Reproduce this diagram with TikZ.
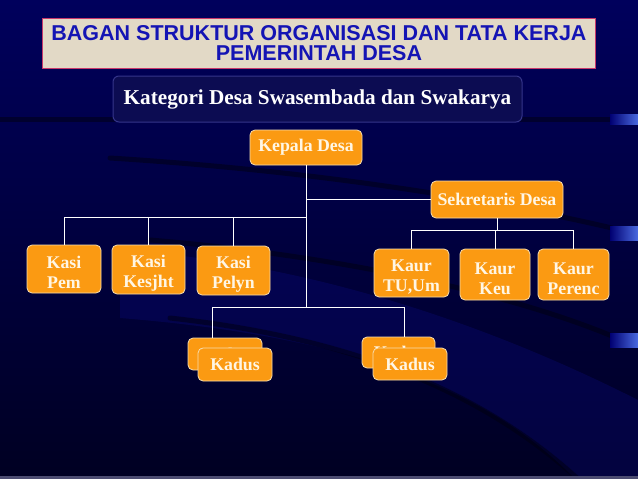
\documentclass[tikz,border=0pt]{standalone}
\usepackage{fontspec}
\setmainfont{Liberation Serif}
\newfontfamily\headfont{Liberation Sans}
\usetikzlibrary{calc}

\definecolor{bgtop}{HTML}{00005C}
\definecolor{bgmid}{HTML}{000072}
\definecolor{bgbot}{HTML}{000022}
\definecolor{bandblue}{HTML}{0C0C84}
\definecolor{streak}{HTML}{000010}
\definecolor{glint}{HTML}{4A6AE0}
\definecolor{titlefill}{HTML}{E2D9C6}
\definecolor{titleedge}{HTML}{C8386A}
\definecolor{titleblue}{HTML}{1414B4}
\definecolor{subfill}{HTML}{0C0C52}
\definecolor{subedge}{HTML}{34348A}
\definecolor{boxorange}{HTML}{FB9A12}
\definecolor{boxedge}{HTML}{F6DDB0}
\definecolor{boxtext}{HTML}{FFF6E4}

\tikzset{
  unitbox/.style={draw=boxedge, line width=0.8pt, fill=boxorange, rounded corners=5pt,
    text=boxtext, font=\bfseries\fontsize{17.8}{20}\selectfont, align=center, inner sep=0pt},
  twoline/.style={unitbox, execute at begin node={\rule{0pt}{40pt}}},
  link/.style={draw=white, line width=0.9pt},
  streakline/.style={draw=streak, line width=5pt, opacity=0.5, line cap=round},
}

\begin{document}
\begin{tikzpicture}[x=1pt, y=-1pt]
    \useasboundingbox (0,0) rectangle (638,479);

    % background
    \shade[top color=bgtop, middle color=bgmid, bottom color=bgbot] (0,0) rectangle (638,479);
    \fill[bandblue, opacity=0.3] (120,250) .. controls (300,262) and (480,320) .. (638,400) -- (638,479) -- (575,479) .. controls (480,380) and (330,335) .. (120,318) -- cycle;
    \draw[streakline] (0,119) -- (612,119);
    \draw[streakline] (110,158) .. controls (300,170) and (470,195) .. (612,228);
    \draw[streakline] (150,240) .. controls (330,255) and (500,290) .. (612,336);
    \draw[streakline] (170,318) .. controls (350,338) and (480,390) .. (578,479);
    \fill[left color=bgmid, right color=glint] (610,114) rectangle (638,124);
    \fill[left color=bgmid, right color=glint] (610,226) rectangle (638,240);
    \fill[left color=bgmid, right color=glint] (610,333) rectangle (638,347);
    \fill[gray!60!bgtop] (0,476) rectangle (638,479);

    % heading
    \node[draw=titleedge, line width=1pt, fill=titlefill, minimum width=553pt, minimum height=50pt, inner sep=0pt,
      text=titleblue, font=\headfont\bfseries\fontsize{21.5}{19.5}\selectfont, align=center] (title) at (319,43)
      {BAGAN STRUKTUR ORGANISASI DAN TATA KERJA\\PEMERINTAH DESA};
    \node[draw=subedge, line width=1pt, fill=subfill, rounded corners=6pt, minimum width=409pt, minimum height=46pt, inner sep=0pt,
      text=white, font=\bfseries\fontsize{21.2}{22}\selectfont] (kategori) at (317.5,99) {Kategori Desa Swasembada dan Swakarya};

    % units
    \node[unitbox, minimum width=112pt, minimum height=35pt] (kepala) at (306,147.5) {Kepala Desa};
    \node[unitbox, minimum width=132pt, minimum height=37pt] (sekdes) at (497,199.5) {Sekretaris Desa};
    \node[twoline, minimum width=74pt, minimum height=48pt] (kasipem) at (64,269) {Kasi\\Pem};
    \node[twoline, minimum width=73pt, minimum height=49pt] (kasikes) at (148.5,269.5) {Kasi\\Kesjht};
    \node[twoline, minimum width=73pt, minimum height=49pt] (kasipel) at (233.5,270.5) {Kasi\\Pelyn};
    \node[twoline, minimum width=75pt, minimum height=48pt] (kaurtu) at (411.5,273) {Kaur\\TU,Um};
    \node[twoline, minimum width=70pt, minimum height=51pt] (kaurkeu) at (495,274.5) {Kaur\\Keu};
    \node[twoline, minimum width=71pt, minimum height=51pt] (kaurper) at (573.5,274.5) {Kaur\\Perenc};
    \node[unitbox, minimum width=74pt, minimum height=32pt] (kadusa) at (225,354) {Kadus};
    \node[unitbox, minimum width=74pt, minimum height=33pt] (kadusb) at (235,364.5) {Kadus};
    \node[unitbox, minimum width=73pt, minimum height=31pt] (kadusc) at (398.5,352.5) {Kadus};
    \node[unitbox, minimum width=74pt, minimum height=32pt] (kadusd) at (410,364) {Kadus};

    % bus points
    \coordinate (kasibus) at (306,217);
    \coordinate (kaurbus) at (497,230);
    \coordinate (kadusbus) at (306,307);
    \coordinate (kadusleft) at (212,307);
    \coordinate (kadusright) at (404,307);

    % links
    \draw[link] (kepala.south) -- (kadusbus); % main line
    \draw[link] (kepala.south |- sekdes.west) -- (sekdes.west); % Sekdes
    \draw[link] (kasibus) -- (kasipem.north |- kasibus) -- (kasipem.north); % Kasi Pem
    \draw[link] (kasikes.north |- kasibus) -- (kasikes.north); % Kasi Kesjht
    \draw[link] (kasipel.north |- kasibus) -- (kasipel.north); % Kasi Pelyn
    \draw[link] (sekdes.south) -- (kaurbus); % Sekdes down
    \draw[link] (kaurtu.north |- kaurbus) -- (kaurper.north |- kaurbus); % Kaur bus
    \draw[link] (kaurtu.north |- kaurbus) -- (kaurtu.north); % Kaur TU
    \draw[link] (kaurkeu.north |- kaurbus) -- (kaurkeu.north); % Kaur Keu
    \draw[link] (kaurper.north |- kaurbus) -- (kaurper.north); % Kaur Perenc
    \draw[link] (kadusleft) -- (kadusright); % Kadus bus
    \draw[link] (kadusleft) -- (kadusleft |- kadusa.north); % Kadus 1
    \draw[link] (kadusright) -- (kadusright |- kadusc.north); % Kadus 2
\end{tikzpicture}
\end{document}
